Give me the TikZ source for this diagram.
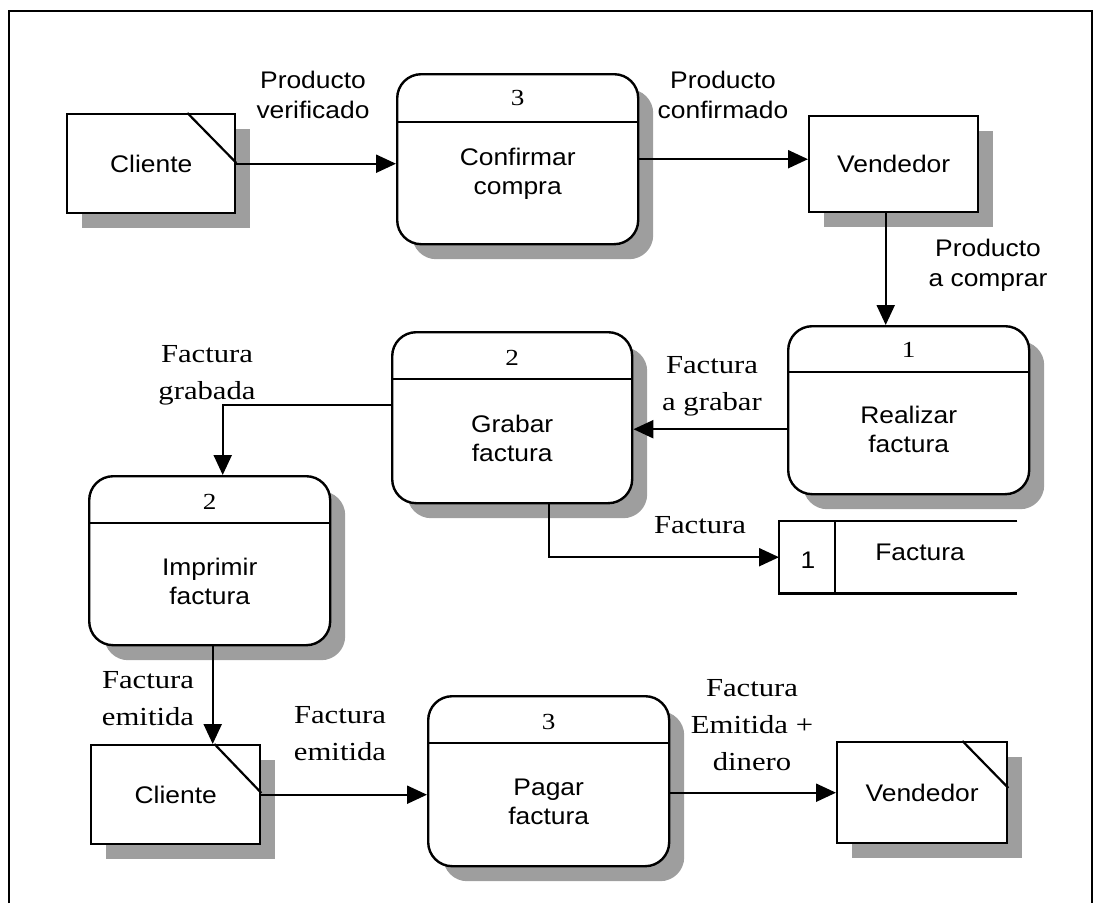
\documentclass[tikz,border=0pt]{standalone}
\usepackage{fontspec}
\setmainfont{Liberation Serif}[FakeStretch=1.18]
\setsansfont{Liberation Sans}[FakeStretch=1.1]
\usetikzlibrary{arrows.meta,shadows,calc}
\tikzset{
  sh/.style={drop shadow={shadow xshift=15pt, shadow yshift=-15pt, fill=black!38, opacity=1}},
  ext/.style={draw, line width=2.4pt, fill=white, sh, rectangle, anchor=north west, inner sep=0pt,
              font=\sffamily\fontsize{24}{29}\selectfont},
  proc/.style={draw, line width=2.4pt, fill=white, sh, rectangle, rounded corners=24pt,
               anchor=north west, inner sep=0pt},
  divl/.style={line width=2.2pt},
  num/.style={font=\fontsize{23}{26}\selectfont, inner sep=0pt},
  ptext/.style={font=\sffamily\fontsize{24}{29}\selectfont, align=center, inner sep=0pt},
  flow/.style={line width=2.2pt, -{Triangle[length=20pt,width=18pt]}},
  lab/.style={font=\fontsize{26}{37}\selectfont, align=center, inner sep=0pt},
  slab/.style={font=\sffamily\fontsize{24}{30}\selectfont, align=center, inner sep=0pt}
}
\begin{document}
\begin{tikzpicture}[x=1pt, y=-1pt]
\useasboundingbox (0,0) rectangle (1098,903);
% frame
\draw[line width=2pt] (9,903) -- (9,11) -- (1092,11) -- (1092,903);

% external entities
\node[ext, minimum width=168pt, minimum height=99pt] (cli1) at (66,113) {Cliente};
\draw[divl] ($(cli1.north east)+(-49,0)$) -- ($(cli1.north east)+(0,50)$);
\node[ext, minimum width=169pt, minimum height=96pt] (ven1) at (808,115) {Vendedor};
\node[ext, minimum width=169pt, minimum height=99pt] (cli2) at (90,744) {Cliente};
\draw[divl] ($(cli2.north east)+(-47,0)$) -- ($(cli2.north east)+(0,49)$);
\node[ext, minimum width=170pt, minimum height=101pt] (ven2) at (836,741) {Vendedor};
\draw[divl] ($(ven2.north east)+(-46,0)$) -- ($(ven2.north east)+(0,47)$);

% processes
\node[proc, minimum width=241pt, minimum height=170pt] (p3a) at (396,73) {};
\draw[divl] ($(p3a.north west)+(0,49)$) -- ($(p3a.north east)+(0,49)$);
\node[num] (n3a) at ($(p3a.north)+(0,25)$) {3};
\node[ptext] (t3a) at ($(p3a.north)+(0,101)$) {Confirmar\\compra};

\node[proc, minimum width=241pt, minimum height=168pt] (p1) at (787,325) {};
\draw[divl] ($(p1.north west)+(0,47)$) -- ($(p1.north east)+(0,47)$);
\node[num] (n1) at ($(p1.north)+(0,25)$) {1};
\node[ptext] (t1) at ($(p1.north)+(0,104)$) {Realizar\\factura};

\node[proc, minimum width=240pt, minimum height=171pt] (p2) at (391,331) {};
\draw[divl] ($(p2.north west)+(0,48)$) -- ($(p2.north east)+(0,48)$);
\node[num] (n2) at ($(p2.north)+(0,27)$) {2};
\node[ptext] (t2) at ($(p2.north)+(0,107)$) {Grabar\\factura};

\node[proc, minimum width=241pt, minimum height=169pt] (p2b) at (88,475) {};
\draw[divl] ($(p2b.north west)+(0,48)$) -- ($(p2b.north east)+(0,48)$);
\node[num] (n2b) at ($(p2b.north)+(0,27)$) {2};
\node[ptext] (t2b) at ($(p2b.north)+(0,106)$) {Imprimir\\factura};

\node[proc, minimum width=241pt, minimum height=170pt] (p3b) at (427,695) {};
\draw[divl] ($(p3b.north west)+(0,48)$) -- ($(p3b.north east)+(0,48)$);
\node[num] (n3b) at ($(p3b.north)+(0,27)$) {3};
\node[ptext] (t3b) at ($(p3b.north)+(0,107)$) {Pagar\\factura};

% data store
\node[minimum width=238pt, minimum height=72pt, anchor=north west, inner sep=0pt] (st) at (779,521) {};
\draw[divl] (st.north east) -- (st.north west) -- (st.south west) -- (st.south east);
\draw[divl] ($(st.north west)+(56,0)$) -- ($(st.south west)+(56,0)$);
\node[ptext] (stn) at (808,560) {1};
\node[ptext] (stt) at (920,552) {Factura};

% connectors
\draw[flow] (cli1.east) -- (cli1.east -| p3a.west);
\draw[flow] (p3a.east) -- (p3a.east -| ven1.west);
\coordinate (v1s) at ($(ven1.south)+(-8,0)$);
\draw[flow] (v1s) -- (v1s |- p1.north);
\coordinate (p1w) at ($(p1.west)+(0,19)$);
\draw[flow] (p1w) -- (p1w -| p2.east);
\coordinate (p2w) at ($(p2.west)+(0,-13)$);
\coordinate (k1) at ($(p2b.north)+(13,0)$);
\draw[flow] (p2w) -| (k1);
\coordinate (p2s) at ($(p2.south)+(37,0)$);
\draw[flow] (p2s) |- (st.west);
\coordinate (p2bs) at ($(p2b.south)+(3,0)$);
\draw[flow] (p2bs) -- (p2bs |- cli2.north);
\draw[flow] (cli2.east) -- (cli2.east -| p3b.west);
\draw[flow] (ven2.west -| p3b.east) -- (ven2.west);

% labels
\node[slab] (l1) at (313,95) {Producto\\verificado};
\node[slab] (l2) at (723,95) {Producto\\confirmado};
\node[slab] (l3) at (988,265) {Producto\\a comprar};
\node[lab] (l4) at (207,375) {Factura\\grabada};
\node[lab] (l5) at (712,386) {Factura\\a grabar};
\node[lab] (l6) at (700,525) {Factura};
\node[lab] (l7) at (148,699) {Factura\\emitida};
\node[lab] (l8) at (340,734) {Factura\\emitida};
\node[lab] (l9) at (752,725) {Factura\\Emitida +\\dinero};
\end{tikzpicture}
\end{document}
